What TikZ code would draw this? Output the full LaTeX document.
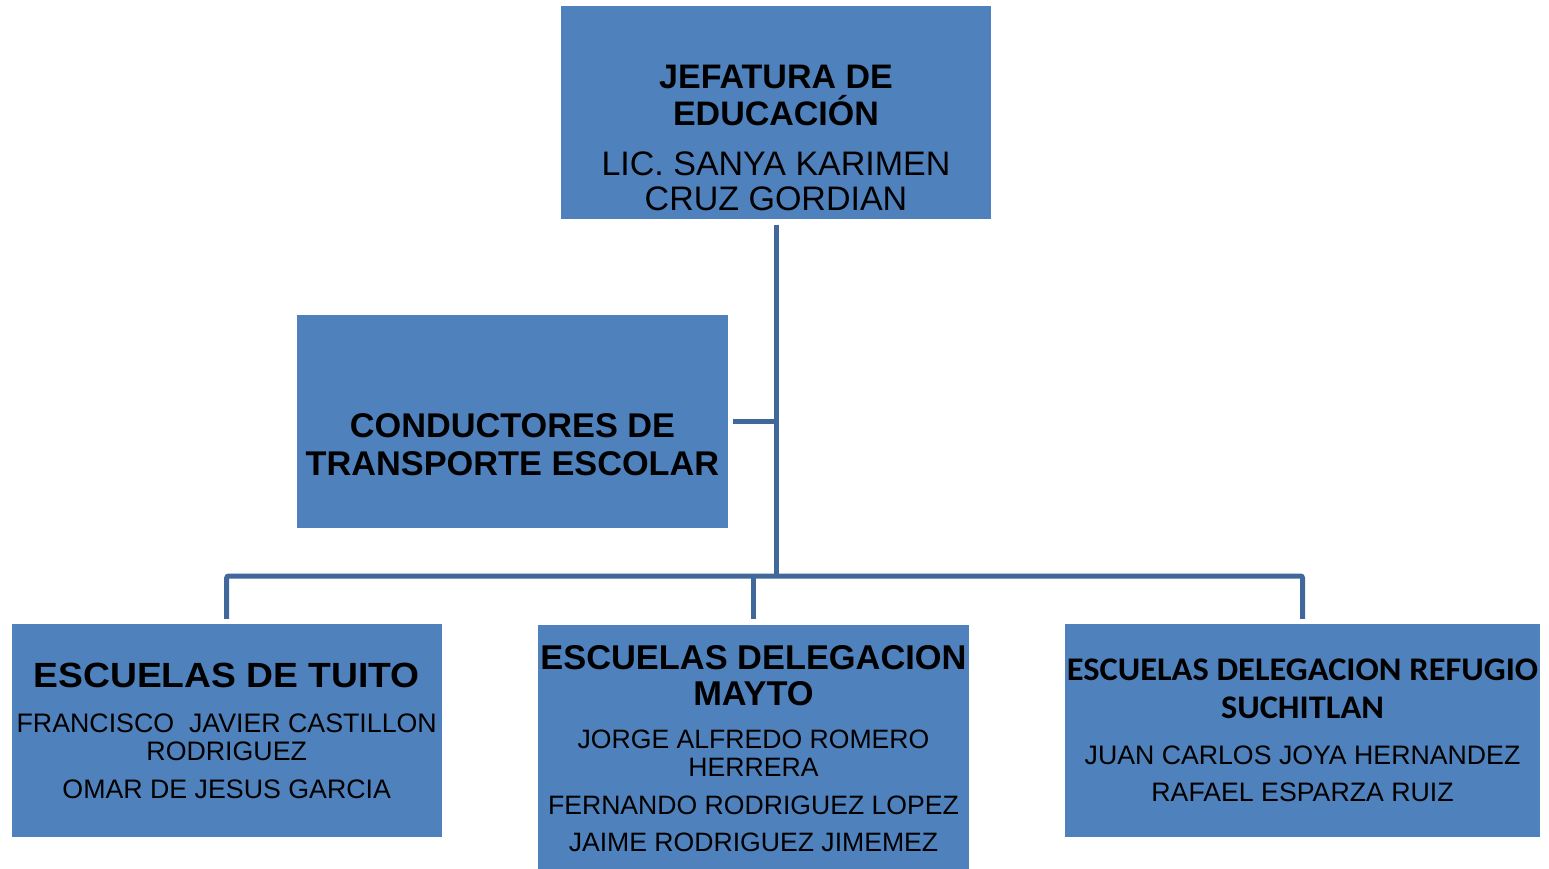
\documentclass[tikz,border=0pt]{standalone}
\usepackage{fontspec}
\setmainfont{Liberation Sans}
\newfontfamily\calib{Carlito}
\definecolor{boxfill}{HTML}{4F81BD}
\definecolor{linec}{HTML}{41689A}
\tikzset{
  box/.style={fill=boxfill, draw=none, inner sep=0pt, outer sep=0pt},
  conn/.style={draw=linec, line width=5pt},
  txt/.style={anchor=base, inner sep=0pt, text=black},
}
\begin{document}
\begin{tikzpicture}[x=1pt,y=-1pt]
\useasboundingbox[fill=white] (0,0) rectangle (1549,869);
% boxes
\node[box, minimum width=430pt, minimum height=212.5pt] (top) at (776,112.25) {};
\node[box, minimum width=430.5pt, minimum height=212.5pt] (cond) at (512.5,421.5) {};
\node[box, minimum width=430pt, minimum height=212.5pt] (tuito) at (226.7,730.6) {};
\node[box, minimum width=431pt, minimum height=250pt] (mayto) at (753.5,749.5) {};
\node[box, minimum width=475pt, minimum height=212.5pt] (refugio) at (1302.5,730.6) {};
% texts
\node[txt, font=\bfseries\fontsize{34}{36}\selectfont] (t1) at (776,89) {JEFATURA DE};
\node[txt, font=\bfseries\fontsize{34}{36}\selectfont] (t2) at (776,125.3) {EDUCACIÓN};
\node[txt, font=\fontsize{34}{36}\selectfont] (t3) at (776,175.7) {LIC. SANYA KARIMEN};
\node[txt, font=\fontsize{34}{36}\selectfont] (t4) at (776,210.7) {CRUZ GORDIAN};

\node[txt, font=\bfseries\fontsize{34.3}{36}\selectfont] (c1) at (512.5,437.7) {CONDUCTORES DE};
\node[txt, font=\bfseries\fontsize{34.3}{36}\selectfont] (c2) at (512.5,475) {TRANSPORTE ESCOLAR};

\node[txt, font=\bfseries\fontsize{35}{36}\selectfont] (a1) at (226.7,687.5) {\scalebox{1.064}[1]{ESCUELAS DE TUITO}};
\node[txt, font=\fontsize{26.75}{28}\selectfont] (a2) at (226.7,732.7) {FRANCISCO\ \ JAVIER CASTILLON};
\node[txt, font=\fontsize{26.75}{28}\selectfont] (a3) at (226.7,760.7) {RODRIGUEZ};
\node[txt, font=\fontsize{26.75}{28}\selectfont] (a4) at (226.7,798.7) {OMAR DE JESUS GARCIA};

\node[txt, font=\bfseries\fontsize{34.4}{36}\selectfont] (b1) at (753.5,669) {ESCUELAS DELEGACION};
\node[txt, font=\bfseries\fontsize{34.4}{36}\selectfont] (b2) at (753.5,705) {MAYTO};
\node[txt, font=\fontsize{26.6}{28}\selectfont] (b3) at (753.5,748.3) {JORGE ALFREDO ROMERO};
\node[txt, font=\fontsize{26.6}{28}\selectfont] (b4) at (753.5,776) {HERRERA};
\node[txt, font=\fontsize{26.6}{28}\selectfont] (b5) at (753.5,814) {FERNANDO RODRIGUEZ LOPEZ};
\node[txt, font=\fontsize{26.6}{28}\selectfont] (b6) at (753.5,851.7) {JAIME RODRIGUEZ JIMEMEZ};

\node[txt, font=\calib\bfseries\fontsize{33}{36}\selectfont] (r1) at (1302.5,680) {\scalebox{1.043}[1]{ESCUELAS DELEGACION REFUGIO}};
\node[txt, font=\calib\bfseries\fontsize{33}{36}\selectfont] (r2) at (1302.5,718.3) {\scalebox{1.043}[1]{SUCHITLAN}};
\node[txt, font=\fontsize{26.7}{28}\selectfont] (r3) at (1302.5,764) {JUAN CARLOS JOYA HERNANDEZ};
\node[txt, font=\fontsize{26.7}{28}\selectfont] (r4) at (1302.5,801.7) {RAFAEL ESPARZA RUIZ};

% connectors
\coordinate (bus) at (776,576);
\draw[conn] ([yshift=-6pt]top.south) -- (top.south |- bus);
\draw[conn] ([xshift=5pt]cond.east) -- (cond.east -| top.south);
\draw[conn, rounded corners=2pt] ([yshift=5.5pt]tuito.north) -- (tuito.north |- bus) -- (refugio.north |- bus) -- ([yshift=5.5pt]refugio.north);
\draw[conn] (mayto.north |- bus) -- ([yshift=5.5pt]mayto.north);
\end{tikzpicture}
\end{document}
